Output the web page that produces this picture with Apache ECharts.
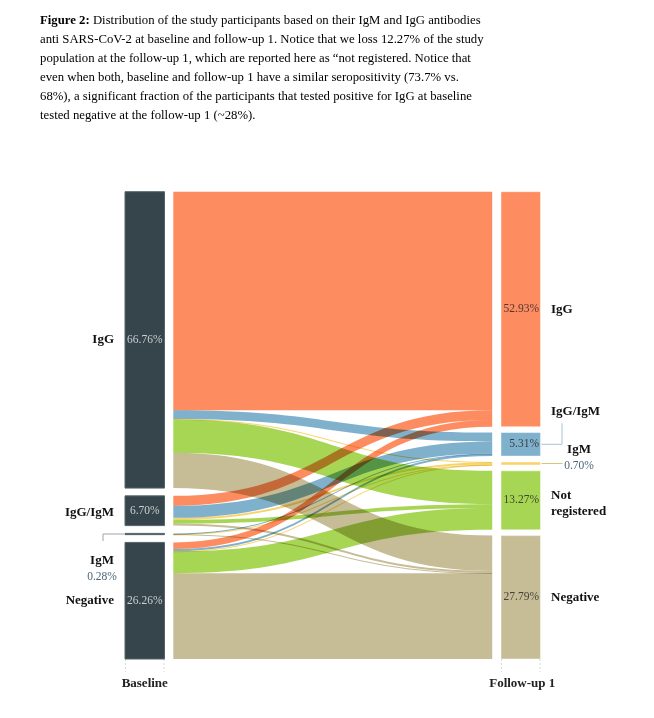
<!DOCTYPE html>
<html><head><meta charset="utf-8">
<script src="https://cdn.jsdelivr.net/npm/echarts@6/dist/echarts.min.js"></script>
<style>html,body{margin:0;padding:0;background:#fff}#c{width:654px;height:718px}</style>
</head><body><div id="c"></div>
<script>
// ---------------- data ----------------
const baselineCategories = ['IgG', 'IgG/IgM', 'IgM', 'Negative'];
const baselinePercent = [66.76, 6.70, 0.28, 26.26];
const followupCategories = ['IgG', 'IgG/IgM', 'IgM', 'Not registered', 'Negative'];
const followupPercent = [52.93, 5.31, 0.70, 13.27, 27.79];
// flows from each baseline group to the follow-up groups (same order as followupCategories)
const flowsFromIgG = [49.20, 2.00, 0.10, 7.50, 7.96];
const flowsFromIgGIgM = [2.23, 2.70, 0.45, 0.87, 0.45];
const flowsFromIgM = [0, 0.11, 0.10, 0, 0.07];
const flowsFromNegative = [1.50, 0.50, 0.05, 4.90, 19.31];
const columnTitles = ['Baseline', 'Follow-up 1'];
const captionBold = 'Figure 2:';
const captionLines = [
  ' Distribution of the study participants based on their IgM and IgG antibodies',
  'anti SARS-CoV-2 at baseline and follow-up 1. Notice that we loss 12.27% of the study',
  'population at the follow-up 1, which are reported here as \u201cnot registered. Notice that',
  'even when both, baseline and follow-up 1 have a similar seropositivity (73.7% vs.',
  '68%), a significant fraction of the participants that tested positive for IgG at baseline',
  'tested negative at the follow-up 1 (~28%).'
];

// ---------------- styles ----------------
const followupColors = ['#fd8c61', '#80b1cc', '#f8d56c', '#a7d655', '#c6bc96'];
const baselineColor = '#35454b';
const SERIF = '"Liberation Serif", "DejaVu Serif", serif';
const BOX = { left: 125, top: 191.7, width: 415.5, height: 467.3 };
const NODE_W = 39.5;     // visible node width
const FLOW_NODE_W = 48.3; // node width of the flow layer (creates the white gap)
const NODE_GAP = 5.83;

const flowMatrix = [flowsFromIgG, flowsFromIgGIgM, flowsFromIgM, flowsFromNegative];

// layout scale, same rule as the sankey layout (min over columns)
const sumB = baselinePercent.reduce((a, b) => a + b, 0);
const sumF = followupPercent.reduce((a, b) => a + b, 0);
const ky = Math.min((BOX.height - (baselinePercent.length - 1) * NODE_GAP) / sumB,
                    (BOX.height - (followupPercent.length - 1) * NODE_GAP) / sumF);
function spread(vals) {
  const s = vals.reduce((a, b) => a + b, 0);
  const g = (BOX.height - s * ky) / (vals.length - 1);
  let cum = 0;
  return vals.map((v, i) => { const y = cum * ky + i * g; cum += v; return { y: y, dy: v * ky }; });
}
const posB = spread(baselinePercent);
const posF = spread(followupPercent);

function pct(v) { return v.toFixed(2) + '%'; }

const richNames = {
  n: { fontFamily: SERIF, fontWeight: 'bold', fontSize: 13, color: '#111', lineHeight: 16 },
  q: { fontFamily: SERIF, fontSize: 11.5, color: '#4b667a', lineHeight: 15 }
};

// flow layer nodes (invisible) carrying the category names
function flowNodes() {
  const out = [];
  baselineCategories.forEach((c, i) => {
    let label = { show: true, position: 'left', distance: 11, formatter: '{n|' + c + '}', rich: richNames };
    if (c === 'IgG/IgM') label.offset = [0, 2];
    if (c === 'IgM') {
      label = { show: true, position: 'left', distance: 23, align: 'center', verticalAlign: 'top',
        offset: [0, 19], formatter: '{n|' + c + '}\n{q|' + pct(baselinePercent[i]) + '}', rich: richNames };
    }
    out.push({ name: 'b' + i, localY: posB[i].y / BOX.height, label: label });
  });
  followupCategories.forEach((c, j) => {
    let label = { show: true, position: 'right', distance: 10.5, formatter: c.split(' ').map(w => '{n|' + w + '}').join('\n'), rich: richNames };
    if (c === 'IgG/IgM') label.offset = [0, -33];
    if (c === 'Not registered') label.offset = [0, 3];
    if (c === 'IgM') {
      label = { show: true, position: 'right', distance: 38.5, align: 'center', offset: [0, -6],
        formatter: '{n|' + c + '}\n{q|' + pct(followupPercent[j]) + '}', rich: richNames };
    }
    out.push({ name: 'f' + j, localY: posF[j].y / BOX.height, label: label });
  });
  return out;
}

function allLinks(visible) {
  const links = [];
  flowMatrix.forEach((row, i) => row.forEach((v, j) => {
    if (v > 0) links.push({ source: 'b' + i, target: 'f' + j, value: v,
      lineStyle: { color: visible ? followupColors[j] : 'rgba(0,0,0,0)', opacity: visible ? 1 : 0 } });
  }));
  return links;
}

function barNodes() {
  const out = [];
  baselineCategories.forEach((c, i) => {
    out.push({ name: 'b' + i, localY: posB[i].y / BOX.height,
      itemStyle: { color: baselineColor, borderColor: '#56656b', borderWidth: 1 },
      label: { show: c !== 'IgM', position: 'inside', formatter: pct(baselinePercent[i]),
        fontFamily: SERIF, fontSize: 11.5, color: '#c9d0d3' } });
  });
  followupCategories.forEach((c, j) => {
    out.push({ name: 'f' + j, localY: posF[j].y / BOX.height,
      itemStyle: { color: followupColors[j], borderColor: 'rgba(255,255,255,0.45)', borderWidth: 1 },
      label: { show: c !== 'IgM', position: 'insideRight', distance: 2, formatter: pct(followupPercent[j]),
        fontFamily: SERIF, fontSize: 11.5, color: 'rgba(35,35,35,0.8)' } });
  });
  return out;
}

const xR = BOX.left + BOX.width;
const bottom = BOX.top + BOX.height;
const ycIgGIgM = BOX.top + posF[1].y + posF[1].dy / 2;
const ycIgMF = BOX.top + posF[2].y + posF[2].dy / 2;
const ycIgMB = BOX.top + posB[2].y + posB[2].dy / 2;

const graphics = [
  { type: 'polyline', shape: { points: [[xR + 1, ycIgGIgM], [xR + 21.5, ycIgGIgM], [xR + 21.5, ycIgGIgM - 21]] },
    style: { stroke: '#a9c3d4', lineWidth: 1, fill: null } },
  { type: 'polyline', shape: { points: [[xR + 1, ycIgMF], [xR + 22, ycIgMF]] },
    style: { stroke: '#d8c47e', lineWidth: 1, fill: null } },
  { type: 'polyline', shape: { points: [[BOX.left - 1, ycIgMB], [BOX.left - 22, ycIgMB], [BOX.left - 22, ycIgMB + 7]] },
    style: { stroke: '#9aa5aa', lineWidth: 1, fill: null } }
];
[BOX.left + 0.5, BOX.left + NODE_W - 0.5, xR - NODE_W + 0.5, xR - 0.5].forEach(x => {
  graphics.push({ type: 'line', shape: { x1: x, y1: bottom, x2: x, y2: bottom + 13 },
    style: { stroke: '#d6d6d6', lineWidth: 1, lineDash: [2, 2] } });
});
[BOX.left + NODE_W / 2, xR - NODE_W / 2].forEach((x, k) => {
  graphics.push({ type: 'text', x: x + (k ? 1.5 : 0), y: bottom + 25,
    style: { text: columnTitles[k], font: 'bold 13px ' + SERIF, fill: '#222', align: 'center', verticalAlign: 'middle' } });
});

const chart = echarts.init(document.getElementById('c'), null, { renderer: 'canvas' });
chart.setOption({
  backgroundColor: '#fff',
  animation: false,
  title: {
    left: 40, top: 11, padding: 0,
    text: '{b|' + captionBold + '}' + captionLines.join('\n'),
    textStyle: {
      fontFamily: SERIF, fontSize: 12.75, fontWeight: 'normal', color: '#000', lineHeight: 19,
      rich: { b: { fontFamily: SERIF, fontSize: 12.75, fontWeight: 'bold', color: '#000', lineHeight: 19 } }
    }
  },
  graphic: graphics,
  series: [
    {
      type: 'sankey', left: BOX.left, top: BOX.top, width: BOX.width, height: BOX.height,
      nodeWidth: FLOW_NODE_W, nodeGap: NODE_GAP, layoutIterations: 0, draggable: false,
      blendMode: 'multiply', emphasis: { disabled: true },
      itemStyle: { color: 'rgba(255,255,255,0)', borderWidth: 0 },
      lineStyle: { curveness: 0.5, opacity: 1 },
      data: flowNodes(), links: allLinks(true)
    },
    {
      type: 'sankey', left: BOX.left, top: BOX.top, width: BOX.width, height: BOX.height,
      nodeWidth: NODE_W, nodeGap: NODE_GAP, layoutIterations: 0, draggable: false,
      emphasis: { disabled: true },
      lineStyle: { curveness: 0.5, opacity: 0 },
      data: barNodes(), links: allLinks(false)
    }
  ]
});
</script>
</body></html>
